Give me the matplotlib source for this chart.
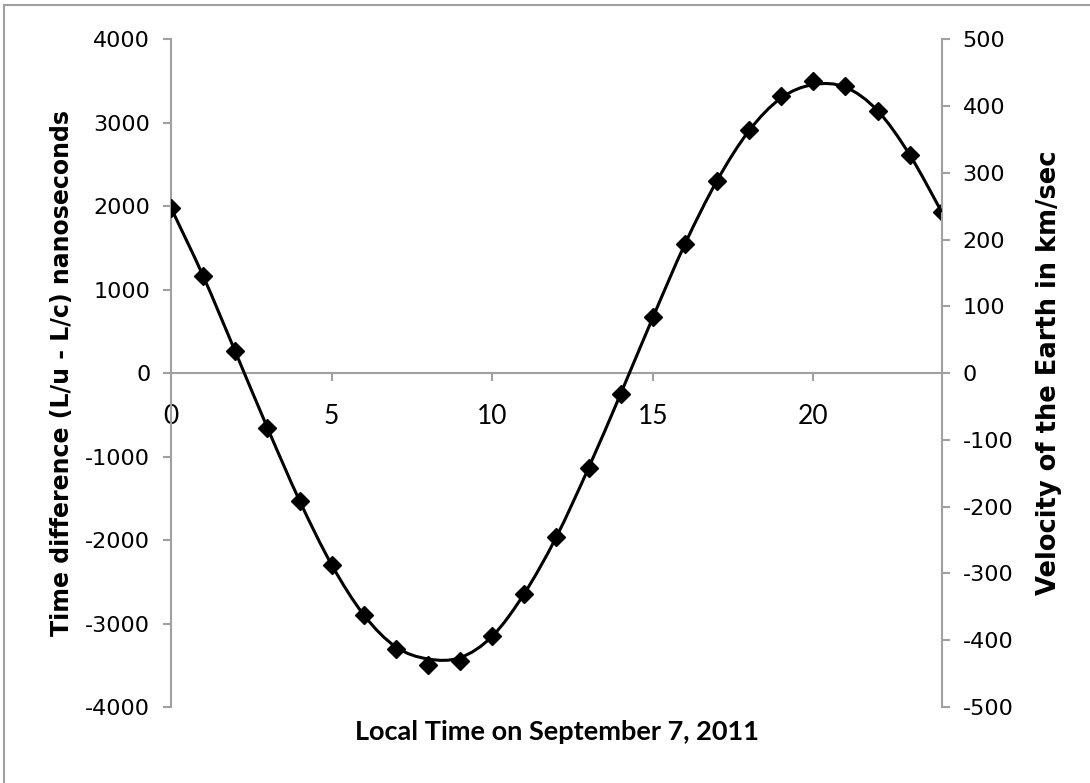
import numpy as np
import matplotlib
matplotlib.use('Agg')
import matplotlib.pyplot as plt
from matplotlib.path import Path
from matplotlib.patches import PathPatch, Rectangle

plt.rcParams['axes.unicode_minus'] = False

# datos
horas = list(range(0, 25))
dif_tiempo = [1976, 1158, 260, -659, -1528, -2295, -2894, -3301, -3493, -3445,
              -3154, -2642, -1960, -1138, -247, 667, 1545, 2304, 2907, 3314,
              3493, 3433, 3142, 2615, 1925]
velocidad = [247, 145, 32, -82, -191, -287, -362, -410, -428, -426,
             -394, -330, -245, -142, -31, 83, 193, 288, 363, 412,
             432, 428, 393, 327, 241]
xticks = [0, 5, 10, 15, 20]
yticks_izq = [-4000, -3000, -2000, -1000, 0, 1000, 2000, 3000, 4000]
yticks_der = [-500, -400, -300, -200, -100, 0, 100, 200, 300, 400, 500]

gris = '#a0a0a0'


def curva_suave(x, y):
    # linea suavizada tipo Excel (bezier cubica)
    p = np.column_stack([x, y]).astype(float)
    verts = [p[0]]
    codes = [Path.MOVETO]
    n = len(p)
    for i in range(n - 1):
        p0 = p[i - 1] if i > 0 else p[i]
        p3 = p[i + 2] if i + 2 < n else p[i + 1]
        c1 = p[i] + (p[i + 1] - p0) / 6.0
        c2 = p[i + 1] - (p3 - p[i]) / 6.0
        verts += [c1, c2, p[i + 1]]
        codes += [Path.CURVE4] * 3
    return Path(verts, codes)


fig = plt.figure(figsize=(10.9, 7.83), dpi=100)
ax = fig.add_axes([0.157, 0.097, 0.707, 0.853])
ax2 = ax.twinx()

ax.plot(horas, dif_tiempo, linestyle='None', marker='D', markersize=9.5,
        color='black', zorder=5)
ax2.add_patch(PathPatch(curva_suave(horas, velocidad), facecolor='none',
                        edgecolor='black', linewidth=2.2, zorder=4))

ax.set_xlim(0, 24)
ax.set_ylim(-4000, 4000)
ax2.set_ylim(-500, 500)

ax.spines['top'].set_visible(False)
ax.spines['right'].set_visible(False)
ax.spines['bottom'].set_position(('data', 0))
ax.spines['left'].set_color(gris)
ax.spines['bottom'].set_color(gris)
ax.spines['left'].set_linewidth(1.5)
ax.spines['bottom'].set_linewidth(1.5)
for s in ['top', 'left', 'bottom']:
    ax2.spines[s].set_visible(False)
ax2.spines['right'].set_color(gris)
ax2.spines['right'].set_linewidth(1.5)

ax.set_xticks(xticks)
ax.set_yticks(yticks_izq)
ax2.set_yticks(yticks_der)
ax.tick_params(axis='y', direction='out', length=6, width=1.5, color=gris,
               labelsize=16, pad=9)
ax2.tick_params(axis='y', direction='out', length=6, width=1.5, color=gris,
                labelsize=16, pad=9)
ax.tick_params(axis='x', direction='out', length=6, width=1.5, color=gris,
               labelsize=19, pad=16)
for t in ax.get_xticklabels():
    t.set_family('Lato')

ax.set_ylabel('Time difference (L/u - L/c) nanoseconds', fontsize=17,
              fontweight='bold', labelpad=8)
ax2.set_ylabel('Velocity of the Earth in km/sec', fontsize=18.5,
               fontweight='bold', labelpad=16)
fig.text(0.511, 0.065, 'Local Time on September 7, 2011', ha='center',
         va='center', fontsize=19.5, fontweight='bold', family='Lato')

fig.patches.append(Rectangle((0.004, -0.05), 1.1, 0.05 + 0.9936,
                             transform=fig.transFigure, fill=False,
                             edgecolor=gris, linewidth=1.5))

fig.savefig('out.png', dpi=100)
